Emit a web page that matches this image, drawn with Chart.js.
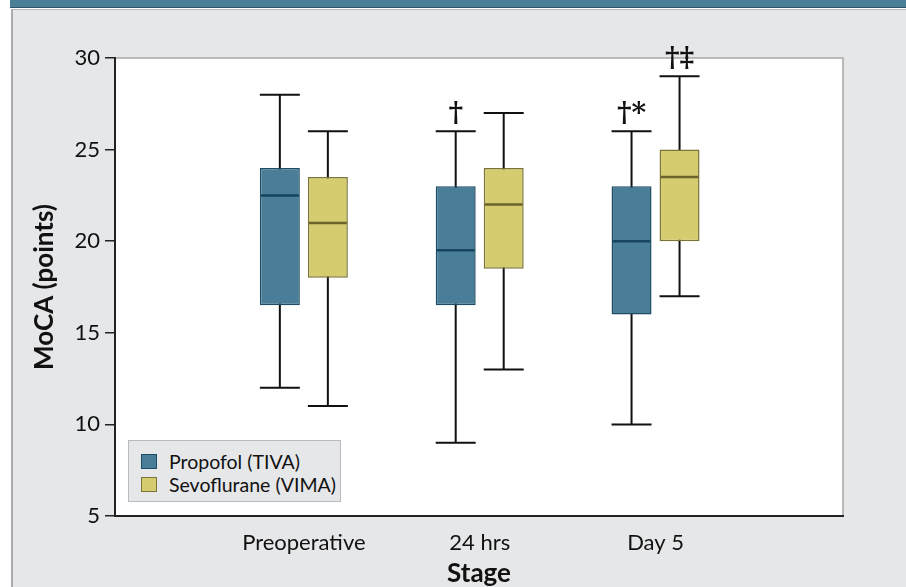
<!DOCTYPE html>
<html>
<head>
<meta charset="utf-8">
<script src="https://cdn.jsdelivr.net/npm/chart.js@4.4.1/dist/chart.umd.min.js"></script>
<style>
  html, body { margin: 0; padding: 0; background: #fff; }
  .wrap { position: relative; width: 906px; height: 587px; overflow: hidden; background: #fff; }
  .topbar { position: absolute; left: 10px; top: 0; width: 896px; height: 7px; background: #4a7f98; border-bottom: 1px solid #2c5266; }
  .frame { position: absolute; left: 11px; top: 9px; width: 900px; height: 590px; background: #e6e7e9; border-left: 2px solid #a9abae; border-top: 1px solid #b5b7ba; }
  canvas { position: absolute; left: 0; top: 0; }
  .legend { position: absolute; left: 128px; top: 440px; width: 211px; height: 60px; background: #e6e7e9; border: 1px solid #b9bbbe; font-family: Lato, "Open Sans", sans-serif; font-size: 19.5px; color: #111; white-space: nowrap; }
  .legend ul { list-style: none; margin: 0; padding: 9px 0 0 12px; }
  .legend li { height: 23px; line-height: 23px; display: flex; align-items: center; }
  .legend .sw { width: 14px; height: 13px; margin-right: 12px; border: 1px solid; }
</style>
</head>
<body>
<div class="wrap">
  <div class="topbar"></div>
  <div class="frame"></div>
  <canvas id="c" width="906" height="587"></canvas>
  <div class="legend"><ul id="legend"></ul></div>
</div>
<script>
const stages = ["Preoperative", "24 hrs", "Day 5"];
const seriesNames = ["Propofol (TIVA)", "Sevoflurane (VIMA)"];

// box plot values per stage: min, q1, median, q3, max
const propofolMin = [12, 9, 10];
const propofolQ1 = [16.5, 16.5, 16];
const propofolMedian = [22.5, 19.5, 20];
const propofolQ3 = [24, 23, 23];
const propofolMax = [28, 26, 26];

const sevoMin = [11, 13, 17];
const sevoQ1 = [18, 18.5, 20];
const sevoMedian = [21, 22, 23.5];
const sevoQ3 = [23.5, 24, 25];
const sevoMax = [26, 27, 29];

const propofolMarks = ["", "†", "†*"];
const sevoMarks = ["", "", "†‡"];

const yTicks = [5, 10, 15, 20, 25, 30];

const fills = ["#4a7d97", "#d5cc6f"];
const borders = ["#1d4c65", "#7b7436"];
const medianColors = ["#17455e", "#6a632c"];

const FONT = "Lato, 'Open Sans', sans-serif";

const boxes = [
  { min: propofolMin, q1: propofolQ1, med: propofolMedian, q3: propofolQ3, max: propofolMax, marks: propofolMarks },
  { min: sevoMin, q1: sevoQ1, med: sevoMedian, q3: sevoQ3, max: sevoMax, marks: sevoMarks }
];

const datasets = boxes.map((b, d) => ({
  label: seriesNames[d],
  data: stages.map((s, i) => ({ x: i + 1, y: [b.q1[i], b.q3[i]] })),
  backgroundColor: fills[d],
  borderColor: borders[d],
  borderWidth: 1.5,
  borderSkipped: false,
  categoryPercentage: 0.546,
  barPercentage: 0.833
}));

// white plot area plus light top/right border
const plotBg = {
  id: "plotBg",
  beforeDraw(chart) {
    const { ctx, chartArea: a } = chart;
    ctx.save();
    ctx.fillStyle = "#fff";
    ctx.fillRect(a.left, a.top, a.right - a.left, a.bottom - a.top);
    ctx.strokeStyle = "#a8a8a8";
    ctx.lineWidth = 1.5;
    ctx.beginPath();
    ctx.moveTo(a.left, a.top);
    ctx.lineTo(a.right, a.top);
    ctx.lineTo(a.right, a.bottom);
    ctx.stroke();
    ctx.restore();
  }
};

// whiskers, medians and significance marks
const whiskers = {
  id: "whiskers",
  beforeDatasetsDraw(chart) {
    const { ctx } = chart;
    const y = chart.scales.y;
    ctx.save();
    boxes.forEach((b, d) => {
      chart.getDatasetMeta(d).data.forEach((bar, i) => {
        const half = bar.width / 2;
        ctx.strokeStyle = "#111";
        ctx.lineWidth = 2;
        ctx.beginPath();
        ctx.moveTo(bar.x, y.getPixelForValue(b.max[i]));
        ctx.lineTo(bar.x, y.getPixelForValue(b.min[i]));
        [b.max[i], b.min[i]].forEach(v => {
          const py = y.getPixelForValue(v);
          ctx.moveTo(bar.x - half, py);
          ctx.lineTo(bar.x + half, py);
        });
        ctx.stroke();
      });
    });
    ctx.restore();
  },
  afterDatasetsDraw(chart) {
    const { ctx } = chart;
    const y = chart.scales.y;
    ctx.save();
    boxes.forEach((b, d) => {
      chart.getDatasetMeta(d).data.forEach((bar, i) => {
        const half = bar.width / 2;
        const py = y.getPixelForValue(b.med[i]);
        ctx.strokeStyle = medianColors[d];
        ctx.lineWidth = 2.5;
        ctx.beginPath();
        ctx.moveTo(bar.x - half + 1, py);
        ctx.lineTo(bar.x + half - 1, py);
        ctx.stroke();
        if (b.marks[i]) {
          ctx.fillStyle = "#111";
          ctx.font = "bold 28px 'DejaVu Serif', serif";
          ctx.textAlign = "center";
          ctx.textBaseline = "bottom";
          ctx.fillText(b.marks[i], bar.x, y.getPixelForValue(b.max[i]) - 3);
        }
      });
    });
    ctx.restore();
  }
};

new Chart(document.getElementById("c"), {
  type: "bar",
  data: { datasets },
  options: {
    responsive: false,
    animation: false,
    layout: { padding: { left: 27, top: 58, right: 63, bottom: 0 } },
    plugins: { legend: { display: false }, tooltip: { enabled: false } },
    scales: {
      x: {
        type: "linear",
        offset: false,
        min: -0.074,
        max: 4.066,
        grid: { display: false },
        border: { display: true, color: "#222", width: 2 },
        afterBuildTicks: s => { s.ticks = stages.map((_, i) => ({ value: i + 1 })); },
        afterFit: s => { s.height = 71; },
        ticks: {
          color: "#111",
          font: { family: FONT, size: 22 },
          padding: 6,
          maxRotation: 0,
          autoSkip: false,
          callback: v => stages[v - 1]
        },
        title: {
          display: true,
          text: "Stage",
          color: "#111",
          font: { family: FONT, size: 26, weight: "bold" },
          padding: { top: 0, bottom: -2 }
        }
      },
      y: {
        min: 5,
        max: 30,
        afterBuildTicks: s => { s.ticks = yTicks.map(v => ({ value: v })); },
        afterFit: s => { s.width = 115 - 27; },
        grid: { drawOnChartArea: false, drawTicks: true, tickLength: 10, color: "#222", lineWidth: 1.5 },
        border: { display: true, color: "#222", width: 2 },
        ticks: {
          color: "#111",
          font: { family: FONT, size: 22 },
          padding: 5
        },
        title: {
          display: true,
          text: "MoCA (points)",
          color: "#111",
          font: { family: FONT, size: 26, weight: "bold" },
          padding: { top: 2, bottom: 2 }
        }
      }
    }
  },
  plugins: [plotBg, whiskers]
});

const ul = document.getElementById("legend");
seriesNames.forEach((n, i) => {
  const li = document.createElement("li");
  li.innerHTML = `<span class="sw" style="background:${fills[i]};border-color:${borders[i]}"></span>${n}`;
  ul.appendChild(li);
});
</script>
</body>
</html>
